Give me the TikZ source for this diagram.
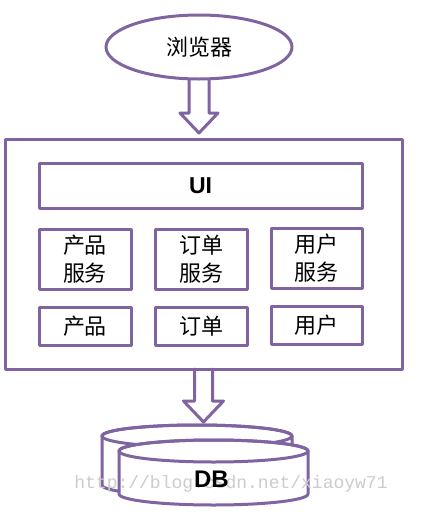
\documentclass[tikz,border=0pt]{standalone}
\usepackage{fontspec}
\setmainfont{Liberation Sans}
\newfontfamily\cjk{Noto Sans CJK SC}
\newfontfamily\wmfont{Liberation Mono}
\usetikzlibrary{calc,shapes.geometric}
\definecolor{lilac}{RGB}{128,100,162}
\begin{document}
\begin{tikzpicture}[x=1pt,y=-1pt,line join=round,line cap=round,line width=3pt,
	box/.style={draw=lilac,rectangle,outer sep=0pt,inner sep=0pt,font=\cjk\fontsize{22}{28}\selectfont,align=center},
	flow/.style={draw=lilac},
	drum/.style={draw=lilac,fill=white}]
	\useasboundingbox (0,0) rectangle (447,512);
	\node[box,ellipse,minimum width=186pt,minimum height=64pt] (browser) at (199,47) {浏览器};
	\node[box,minimum width=397pt,minimum height=230pt] (app) at (203.5,254) {};
	\node[box,minimum width=323pt,minimum height=45pt,font=\bfseries\fontsize{23}{23}\selectfont] (ui) at (200.5,185.5) {UI};
	\node[box,minimum width=92pt,minimum height=60pt] (psvc) at (85,259) {产品\\服务};
	\node[box,minimum width=92pt,minimum height=60pt] (osvc) at (201,259) {订单\\服务};
	\node[box,minimum width=91pt,minimum height=60pt] (usvc) at (316.5,258) {用户\\服务};
	\node[box,minimum width=92pt,minimum height=38pt] (pdata) at (85,326) {产品};
	\node[box,minimum width=92pt,minimum height=38pt] (odata) at (201,326) {订单};
	\node[box,minimum width=91pt,minimum height=38pt] (udata) at (316.5,325) {用户};
	\coordinate (dbtop) at (197,425);
	\draw[flow] ($(browser.south)+(-10,0)$) |- ($(browser.south |- app.north)+(-19,-26)$)
		-- ($(browser.south |- app.north)+(0,-6)$) -- ($(browser.south |- app.north)+(19,-26)$)
		-| ($(browser.south)+(10,0)$);
	\draw[flow] ($(app.south)+(-9,0)$) |- ($(app.south |- dbtop)+(-20,-24)$)
		-- ($(app.south |- dbtop)+(0,-3)$) -- ($(app.south |- dbtop)+(20,-24)$)
		-| ($(app.south)+(9,0)$);
	\filldraw[drum] (102,436) -- (102,485) arc[start angle=180,end angle=0,x radius=95,y radius=11]
		-- (292,436) arc[start angle=0,end angle=-180,x radius=95,y radius=11] -- cycle;
	\draw[lilac] (197,436) ellipse[x radius=95,y radius=11];
	\filldraw[drum] (119,451) -- (119,494) arc[start angle=180,end angle=0,x radius=94.5,y radius=11]
		-- (308,451) arc[start angle=0,end angle=-180,x radius=94.5,y radius=11] -- cycle;
	\draw[lilac] (213.5,451) ellipse[x radius=94.5,y radius=11];
	\node[text=black!20,font=\wmfont\fontsize{18}{18}\selectfont] (mark) at (231,484) {http://blog.csdn.net/xiaoyw71};
	\node[font=\bfseries\fontsize{24}{24}\selectfont] (db) at (211.5,479) {DB};
\end{tikzpicture}
\end{document}
